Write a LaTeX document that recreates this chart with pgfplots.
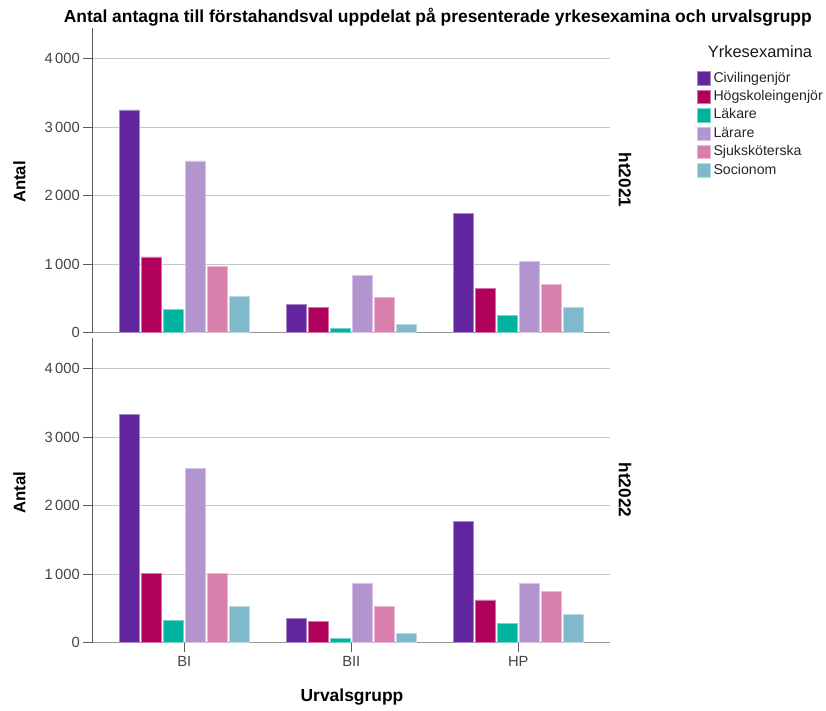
\documentclass[border=0pt]{standalone}
\usepackage{pgfplots}
\pgfplotsset{compat=1.18}
\usepackage{fontspec}
\setmainfont{Liberation Sans}
\definecolor{cCiv}{HTML}{62259D}
\definecolor{cHog}{HTML}{B0005B}
\definecolor{cLak}{HTML}{00B39F}
\definecolor{cLar}{HTML}{B294CF}
\definecolor{cSju}{HTML}{D97FAB}
\definecolor{cSoc}{HTML}{80B8CC}
\definecolor{tickgray}{HTML}{444444}
\definecolor{axgray}{HTML}{5A5A5A}
\pgfplotsset{
  panel/.style={
    scale only axis, width=518bp,
    anchor=south west,
    xmin=-0.551, xmax=2.551, ymin=0, ymax=4450,
    axis x line*=bottom, axis y line*=left,
    x axis line style={draw=gray!85, line width=1.2bp, -},
    y axis line style={draw=axgray, line width=0.8bp, -},
    ytick={0,1000,2000,3000,4000},
    yticklabels={0,{1\,000},{2\,000},{3\,000},{4\,000}},
    ymajorgrids, grid style={draw=gray!45, line width=1bp},
    tick align=outside, major tick length=9bp,
    tick style={draw=axgray, line width=0.8bp},
    ticklabel style={font=\fontsize{14.8}{16}\selectfont, text=tickgray},
    /pgf/number format/assume math mode=true,
    ybar=2bp, bar width=20bp,
    clip=false,
  },
  bs/.style={fill=#1, draw=#1!55!white, line width=0.6bp},
}
\begin{document}
\begin{tikzpicture}
\useasboundingbox (0,0) rectangle (826bp,-711bp);
% top panel ht2021
\begin{axis}[panel, at={(92.3bp,-332.7bp)}, height=304.7bp,
  xtick=\empty,
  legend style={at={(1.1616,0.865)}, anchor=north west, draw=none, fill=none,
    font=\fontsize{14.2}{16}\selectfont, text=black!85,
    nodes={inner sep=0pt, text height=10.5bp, text depth=3bp, anchor=west},
    row sep=4.4bp, column sep=3bp},
  legend cell align=left,
  legend image code/.code={\fill[#1] (0bp,-6.7bp) rectangle (12.7bp,6.7bp);},
  ]
\addplot[bs=cCiv] coordinates {(0,3255) (1,419) (2,1739)};
\addplot[bs=cHog] coordinates {(0,1106) (1,375) (2,648)};
\addplot[bs=cLak] coordinates {(0,336) (1,68) (2,253)};
\addplot[bs=cLar] coordinates {(0,2509) (1,833) (2,1047)};
\addplot[bs=cSju] coordinates {(0,974) (1,516) (2,706)};
\addplot[bs=cSoc] coordinates {(0,526) (1,127) (2,365)};
\legend{Civilingenjör,Högskoleingenjör,Läkare,Lärare,Sjuksköterska,Socionom}
\end{axis}
% bottom panel ht2022
\begin{axis}[panel, at={(92.3bp,-642.7bp)}, height=304.7bp,
  xtick={0,1,2}, xticklabels={BI,BII,HP},
  xticklabel style={yshift=-1bp},
  ]
\addplot[bs=cCiv] coordinates {(0,3337) (1,356) (2,1769)};
\addplot[bs=cHog] coordinates {(0,1008) (1,312) (2,624)};
\addplot[bs=cLak] coordinates {(0,326) (1,68) (2,287)};
\addplot[bs=cLar] coordinates {(0,2543) (1,867) (2,872)};
\addplot[bs=cSju] coordinates {(0,1008) (1,526) (2,745)};
\addplot[bs=cSoc] coordinates {(0,531) (1,141) (2,414)};
\end{axis}
% texts
\node[font=\bfseries\fontsize{17.5}{19}\selectfont, anchor=base] at (437.8bp,-22.7bp)
  {Antal antagna till förstahandsval uppdelat på presenterade yrkesexamina och urvalsgrupp};
\node[font=\bfseries\fontsize{16.8}{18}\selectfont, rotate=90] at (19.5bp,-182bp) {Antal};
\node[font=\bfseries\fontsize{16.8}{18}\selectfont, rotate=90] at (19.5bp,-492.5bp) {Antal};
\node[font=\bfseries\fontsize{17.3}{19}\selectfont, rotate=-90] at (625bp,-180bp) {ht2021};
\node[font=\bfseries\fontsize{17.3}{19}\selectfont, rotate=-90] at (625bp,-490bp) {ht2022};
\node[font=\bfseries\fontsize{17.5}{19}\selectfont] at (352bp,-697bp) {Urvalsgrupp};
\node[font=\fontsize{16.5}{18}\selectfont, text=black!90] at (760bp,-51.5bp) {Yrkesexamina};
\end{tikzpicture}
\end{document}
